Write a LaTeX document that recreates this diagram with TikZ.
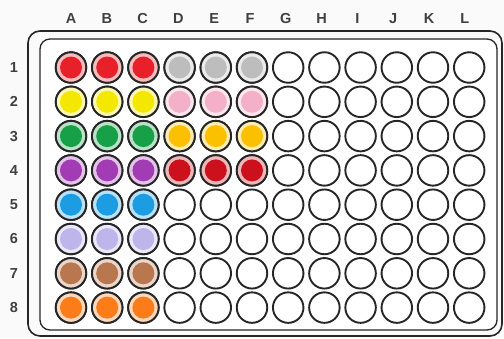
\documentclass[tikz,border=0pt]{standalone}
\usepackage{fontspec}
\setmainfont{Liberation Sans}
\begin{document}
\begin{tikzpicture}[x=1pt,y=-1pt,
  lbl/.style={text=black!75, font=\fontsize{14.5}{15}\selectfont\bfseries, inner sep=0pt},
  well/.style={circle, draw=black!85, line width=1.9pt, minimum size=30.5pt, inner sep=0pt, fill=white},
  wellc/.style={well, fill=#1!30!white,
     path picture={\fill[#1] (path picture bounding box.center) circle (11pt);}},
  plateout/.style={draw=black!85, line width=1.6pt, rounded corners=12pt},
  platein/.style={draw=black!85, line width=1.3pt, rounded corners=10pt, fill=white}]
\definecolor{cred}{HTML}{E8202A}
\definecolor{cgray}{HTML}{BDBDBD}
\definecolor{cyel}{HTML}{F5E800}
\definecolor{cpink}{HTML}{F4B0C8}
\definecolor{cgreen}{HTML}{18A048}
\definecolor{camber}{HTML}{FBC000}
\definecolor{cpurp}{HTML}{A23CB4}
\definecolor{cdred}{HTML}{CC101C}
\definecolor{cblue}{HTML}{1C9CE2}
\definecolor{clav}{HTML}{BEB6EA}
\definecolor{cbrown}{HTML}{B8774E}
\definecolor{corange}{HTML}{FB7C18}
\useasboundingbox (0,0) rectangle (504,338);
\fill[black!2] (0,0) rectangle (504,338);
% plate
\draw[plateout] (28,31) rectangle (502,336);
\draw[platein] (40,39) rectangle (497,330);
% column labels
\foreach \c [count=\i from 0] in {A,B,C,D,E,F,G,H,I,J,K,L}
  \node[lbl] (col\c) at (71+35.8*\i,19) {\c};
% row labels
\foreach \r in {1,...,8}
  \node[lbl] (row\r) at (14,67.5+34.3*\r-34.3) {\r};
% wells
\foreach \c [count=\i from 0] in {A,B,C,D,E,F,G,H,I,J,K,L}
  \foreach \r in {1,...,8}
    \node[well] (w\c\r) at (71+36.2*\i,67.5+34.3*\r-34.3) {};
% coloured wells
\foreach \col/\rr/\cols in {cred/1/{A,B,C},cgray/1/{D,E,F},cyel/2/{A,B,C},cpink/2/{D,E,F},
  cgreen/3/{A,B,C},camber/3/{D,E,F},cpurp/4/{A,B,C},cdred/4/{D,E,F},cblue/5/{A,B,C},
  clav/6/{A,B,C},cbrown/7/{A,B,C},corange/8/{A,B,C}}{
  \foreach \c in \cols
    \node[wellc=\col] (f\c\rr) at (w\c\rr) {};
}
\end{tikzpicture}
\end{document}
